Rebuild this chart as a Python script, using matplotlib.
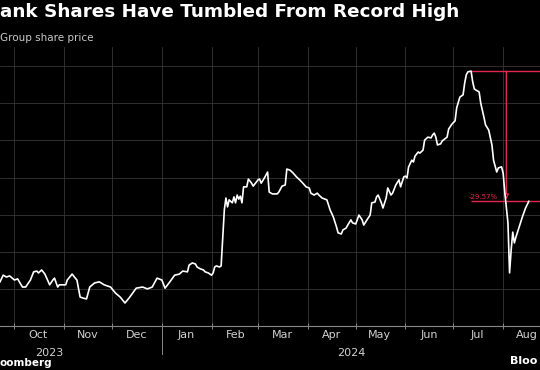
import pandas as pd
import matplotlib.pyplot as plt
import matplotlib.dates as mdates

# share price (gridline units, no y labels visible)
dates = [
    '2023-09-22', '2023-09-24', '2023-09-26', '2023-09-28', '2023-10-01', '2023-10-03',
    '2023-10-06', '2023-10-08', '2023-10-11', '2023-10-13', '2023-10-15', '2023-10-16',
    '2023-10-18', '2023-10-20', '2023-10-23', '2023-10-25', '2023-10-26', '2023-10-28',
    '2023-10-29', '2023-11-02', '2023-11-03', '2023-11-06', '2023-11-08', '2023-11-09',
    '2023-11-11', '2023-11-13', '2023-11-15', '2023-11-17', '2023-11-20', '2023-11-23',
    '2023-11-26', '2023-11-30', '2023-12-03', '2023-12-06', '2023-12-09', '2023-12-12',
    '2023-12-16', '2023-12-20', '2023-12-23', '2023-12-26', '2023-12-29', '2024-01-01',
    '2024-01-03', '2024-01-06', '2024-01-09', '2024-01-12', '2024-01-14', '2024-01-17',
    '2024-01-18', '2024-01-20', '2024-01-22', '2024-01-23', '2024-01-25', '2024-01-27',
    '2024-01-28', '2024-01-30', '2024-02-01', '2024-02-02', '2024-02-03', '2024-02-04',
    '2024-02-06', '2024-02-07', '2024-02-08', '2024-02-09', '2024-02-10', '2024-02-11',
    '2024-02-12', '2024-02-14', '2024-02-15', '2024-02-16', '2024-02-17', '2024-02-18',
    '2024-02-19', '2024-02-20', '2024-02-21', '2024-02-23', '2024-02-24', '2024-02-26',
    '2024-02-27', '2024-02-29', '2024-03-01', '2024-03-02', '2024-03-03', '2024-03-05',
    '2024-03-07', '2024-03-08', '2024-03-10', '2024-03-13', '2024-03-14', '2024-03-16',
    '2024-03-18', '2024-03-19', '2024-03-21', '2024-03-23', '2024-03-25', '2024-03-27',
    '2024-03-29', '2024-03-31', '2024-04-02', '2024-04-03', '2024-04-05', '2024-04-07',
    '2024-04-08', '2024-04-10', '2024-04-13', '2024-04-15', '2024-04-17', '2024-04-19',
    '2024-04-20', '2024-04-22', '2024-04-23', '2024-04-25', '2024-04-26', '2024-04-28',
    '2024-04-29', '2024-05-01', '2024-05-03', '2024-05-05', '2024-05-06', '2024-05-08',
    '2024-05-10', '2024-05-11', '2024-05-13', '2024-05-14', '2024-05-15', '2024-05-17',
    '2024-05-18', '2024-05-20', '2024-05-21', '2024-05-23', '2024-05-24', '2024-05-26',
    '2024-05-28', '2024-05-29', '2024-05-31', '2024-06-01', '2024-06-02', '2024-06-03',
    '2024-06-05', '2024-06-06', '2024-06-07', '2024-06-09', '2024-06-10', '2024-06-12',
    '2024-06-13', '2024-06-15', '2024-06-17', '2024-06-18', '2024-06-19', '2024-06-20',
    '2024-06-21', '2024-06-23', '2024-06-24', '2024-06-27', '2024-06-28', '2024-06-30',
    '2024-07-02', '2024-07-03', '2024-07-05', '2024-07-07', '2024-07-08', '2024-07-09',
    '2024-07-10', '2024-07-12', '2024-07-13', '2024-07-14', '2024-07-15', '2024-07-17',
    '2024-07-18', '2024-07-20', '2024-07-21', '2024-07-23', '2024-07-25', '2024-07-26',
    '2024-07-28', '2024-07-29', '2024-07-31', '2024-08-01', '2024-08-02', '2024-08-04',
    '2024-08-05', '2024-08-06', '2024-08-07', '2024-08-08', '2024-08-09', '2024-08-11',
    '2024-08-13', '2024-08-15', '2024-08-17',
]
prices = [
    6.19, 6.37, 6.32, 6.35, 6.24, 6.27,
    6.05, 6.05, 6.24, 6.46, 6.48, 6.43,
    6.51, 6.40, 6.11, 6.24, 6.29, 6.05,
    6.11, 6.11, 6.24, 6.40, 6.29, 6.24,
    5.78, 5.75, 5.73, 6.05, 6.16, 6.19,
    6.11, 6.05, 5.89, 5.78, 5.62, 5.78,
    6.02, 6.05, 6.00, 6.05, 6.29, 6.24,
    6.02, 6.19, 6.37, 6.40, 6.48, 6.46,
    6.64, 6.70, 6.67, 6.59, 6.54, 6.51,
    6.46, 6.43, 6.37, 6.43, 6.59, 6.62,
    6.59, 6.62, 7.40, 8.13, 8.45, 8.21,
    8.40, 8.32, 8.48, 8.32, 8.53, 8.42,
    8.50, 8.32, 8.75, 8.75, 8.96, 8.85,
    8.77, 8.88, 8.94, 8.96, 8.85, 8.99,
    9.15, 8.61, 8.56, 8.56, 8.61, 8.77,
    8.80, 9.23, 9.20, 9.12, 9.02, 8.94,
    8.85, 8.75, 8.72, 8.58, 8.53, 8.58,
    8.53, 8.45, 8.40, 8.13, 7.94, 7.67,
    7.51, 7.48, 7.59, 7.64, 7.72, 7.86,
    7.78, 7.75, 7.99, 7.86, 7.72, 7.86,
    7.99, 8.32, 8.34, 8.48, 8.53, 8.32,
    8.18, 8.45, 8.72, 8.53, 8.58, 8.80,
    8.94, 8.75, 9.02, 9.04, 8.99, 9.29,
    9.47, 9.42, 9.58, 9.69, 9.66, 9.74,
    10.01, 10.09, 10.07, 10.15, 10.20, 10.09,
    9.88, 9.91, 9.99, 10.09, 10.31, 10.44,
    10.53, 10.88, 11.17, 11.23, 11.55, 11.77,
    11.85, 11.87, 11.58, 11.39, 11.36, 11.31,
    11.01, 10.63, 10.42, 10.28, 9.88, 9.47,
    9.15, 9.26, 9.29, 9.12, 8.61, 7.78,
    6.43, 7.05, 7.53, 7.24, 7.40, 7.67,
    7.94, 8.18, 8.36,
]
drop_label = '-29.57%'
drop_line_date = '2024-08-03'
year_labels = {'2023': '2023-10-23', '2024': '2024-04-28'}

BG = '#000000'
RED = '#e2284f'
GRID = '#363636'

s = pd.Series(prices, index=pd.to_datetime(dates))
peak_date = s.idxmax()
peak = s.max()
last = s.iloc[-1]

fig = plt.figure(figsize=(5.4, 3.7), dpi=100, facecolor=BG)
ax = fig.add_axes([0.0, 44 / 370, 1.0, 279 / 370], facecolor=BG)

x_lo, x_hi = pd.Timestamp('2023-09-22'), pd.Timestamp('2024-08-24')
ax.set_xlim(x_lo, x_hi)
ax.set_ylim(5, 12.52)

ax.plot(s.index, s.values, color='white', lw=1.2, zorder=3)

# drawdown annotation
ax.hlines([peak, last], [peak_date, peak_date], x_hi, color=RED, lw=1.0, zorder=2)
vx = pd.Timestamp(drop_line_date)
ax.annotate('', xy=(vx, last + 0.05), xytext=(vx, peak),
            arrowprops=dict(arrowstyle='-|>', color=RED, lw=1.0,
                            mutation_scale=7, fc=BG, shrinkA=0, shrinkB=0), zorder=2)
ax.annotate(drop_label, xy=(vx, last), xytext=(-6, 1), textcoords='offset points',
            ha='right', va='bottom', color=RED, fontsize=5)

# axes styling
for side in ['top', 'right', 'left']:
    ax.spines[side].set_visible(False)
ax.spines['bottom'].set_color('#888888')
ax.spines['bottom'].set_linewidth(0.8)

ax.xaxis.set_major_locator(mdates.MonthLocator())
ax.xaxis.set_major_formatter(plt.NullFormatter())
ax.xaxis.set_minor_locator(mdates.MonthLocator(bymonthday=16))
ax.xaxis.set_minor_formatter(mdates.DateFormatter('%b'))
ax.tick_params(axis='x', which='major', direction='inout', length=5, color='#888888', width=0.7)
ax.tick_params(axis='x', which='minor', length=0, pad=3, labelsize=8, labelcolor='#d0d0d0')
ax.set_yticks(range(6, 13))
ax.tick_params(axis='y', length=0, labelleft=False)
ax.grid(True, which='major', color=GRID, lw=0.6)

# year labels and separator
for yr, d in year_labels.items():
    ax.text(pd.Timestamp(d), -0.095, yr, transform=ax.get_xaxis_transform(),
            ha='center', va='center', fontsize=8, color='#d0d0d0')
ax.plot([pd.Timestamp('2024-01-01')] * 2, [0, -0.1], transform=ax.get_xaxis_transform(),
        color='#888888', lw=0.7, clip_on=False)

# title block and footer (cropped in the reference)
fig.text(0.0, 1 - 12 / 370, 'ank Shares Have Tumbled From Record High',
         ha='left', va='center', fontsize=13.2, fontweight='bold', color='white')
fig.text(0.0, 1 - 38 / 370, 'Group share price', ha='left', va='center',
         fontsize=7.5, color='#c8c8c8')
fig.text(0.0, 1 - 363 / 370, 'oomberg', ha='left', va='center',
         fontsize=7.5, fontweight='bold', color='white')
fig.text(510 / 540, 1 - 361 / 370, 'Bloo', ha='left', va='center',
         fontsize=8, fontweight='bold', color='white')

fig.savefig('out.png', dpi=100, facecolor=BG)
